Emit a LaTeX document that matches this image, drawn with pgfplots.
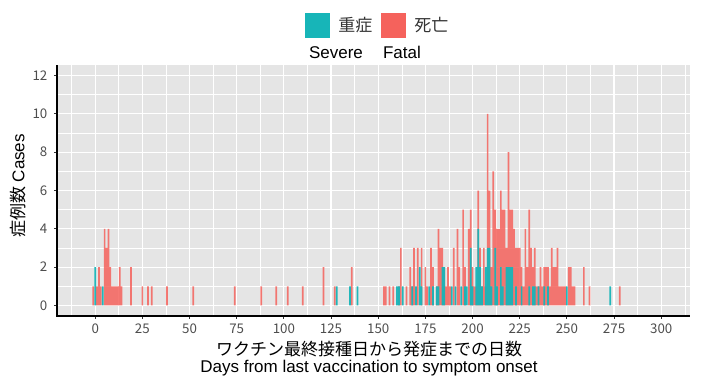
\documentclass[border=0pt]{standalone}
\usepackage{fontspec}
\usepackage{pgfplots}
\pgfplotsset{compat=1.18}
\setmainfont{Liberation Sans}
\newfontfamily\jp{Noto Sans CJK JP}
\definecolor{sev}{HTML}{17B5B8}
\definecolor{fat}{HTML}{F5625C}
\definecolor{panel}{HTML}{E5E5E5}
\definecolor{ticktext}{HTML}{4D4D4D}
\begin{document}
\begin{tikzpicture}[x=0.75pt,y=-0.75pt]
\path[use as bounding box] (0,0) rectangle (704,382);
\begin{axis}[
  at={(42.75pt,-237pt)}, anchor=south west,
  scale only axis, width=474.75pt, height=188.25pt,
  xmin=-20.25, xmax=315.25, ymin=-0.55, ymax=12.55,
  axis background/.style={fill=panel},
  axis line style={draw=none},
  xtick={0,25,...,300}, ytick={0,2,...,12},
  minor xtick={-12.5,12.5,37.5,62.5,87.5,112.5,137.5,162.5,187.5,212.5,237.5,262.5,287.5,312.5},
  minor ytick={1,3,...,11},
  minor tick length=0pt,
  xtick pos=lower, ytick pos=left,
  tick align=outside, major tick length=2.2pt,
  tick style={color=black!80, line width=0.8pt},
  grid=both,
  major grid style={white, line width=0.85pt},
  minor grid style={white, line width=0.45pt},
  /pgf/number format/assume math mode=true,
  ticklabel style={font=\jp\fontsize{10}{12}\selectfont, text=ticktext},
  yticklabel style={xshift=-1.5pt},
  clip=true,
]
\addplot[ybar, bar width=0.9, bar shift=0pt, fill=fat, draw=none, fill opacity=0.85] coordinates {
(-1,1)(1,1)(2,2)(3,1)(5,4)(6,3)(7,4)(8,2)(9,1)(10,1)(11,1)(12,1)(13,2)(14,1)(19,2)(25,1)(28,1)(30,1)(38,1)(52,1)(74,1)(88,1)(96,1)(102,1)(110,1)(121,2)(127,1)(136,2)
(153,1)(154,1)(156,1)(158,1)(161,1)(162,3)(165,1)(167,2)(168,1)(169,3)(171,3)(173,3)(175,2)(176,1)(178,3)(179,2)(181,1)(182,4)(183,3)(184,3)(185,2)(186,1)(187,2)(188,1)(190,3)(192,4)(193,2)(195,5)(196,2)(198,4)(199,5)(200,2)(201,1)(202,1)(203,6)(204,3)(205,1)(206,3)(207,1)(208,10)(209,6)(210,2)(211,7)(212,5)(213,4)(214,4)(215,6)(216,5)(217,5)(218,3)(219,8)(220,5)(221,5)(222,4)(223,3)(224,3)(225,3)(226,2)(227,1)(228,4)(229,2)(230,5)(231,3)(232,2)(233,3)(234,1)(235,1)(236,2)(237,1)(238,2)(239,2)(240,2)(241,1)(242,3)(243,2)(244,2)(245,3)(246,1)(247,1)(248,1)(249,1)(251,2)(252,2)(253,1)(254,1)(259,2)(262,1)(278,1)
};
\addplot[ybar, bar width=0.9, bar shift=0pt, fill=sev, draw=none, fill opacity=0.95] coordinates {
(0,2)(4,1)(128,1)(135,1)(139,1)(160,1)(161,1)(163,1)(168,1)(170,1)(172,2)(173,1)(177,1)(179,1)(181,1)(182,1)(184,2)(185,2)(189,1)(191,1)(194,1)(196,1)(197,1)(199,3)(200,1)(202,2)(203,4)(204,2)(205,1)(207,2)(208,3)(209,3)(210,1)(212,3)(213,1)(215,2)(216,1)(218,2)(219,2)(220,2)(221,2)(223,1)(226,1)(230,1)(232,1)(233,1)(235,1)(238,1)(240,1)(250,1)(273,1)
};
\end{axis}
% axis lines (left and bottom)
\draw[black, line width=1.1pt] (57,65) -- (57,316) -- (690,316);
% legend
\fill[sev] (305,13) rectangle (330,38);
\fill[fat] (381,13) rectangle (406,38);
\node[anchor=west, inner sep=0pt, font=\jp\fontsize{12.75}{14}\selectfont, text=black!80] at (338,25.5) {重症};
\node[anchor=west, inner sep=0pt, font=\jp\fontsize{12.75}{14}\selectfont, text=black!80] at (414,25.5) {死亡};
\node[anchor=base, inner sep=0pt, font=\fontsize{12.75}{14}\selectfont] at (336,58) {Severe};
\node[anchor=base, inner sep=0pt, font=\fontsize{12.75}{14}\selectfont] at (402,58) {Fatal};
% axis titles
\node[inner sep=0pt, font=\jp\fontsize{12.75}{14}\selectfont] at (369,349) {ワクチン最終接種日から発症までの日数};
\node[inner sep=0pt, font=\fontsize{12.75}{14}\selectfont] at (369,368) {Days from last vaccination to symptom onset};
\node[rotate=90, inner sep=0pt, font=\fontsize{12.75}{14}\selectfont] at (18,186) {{\jp 症例数} Cases};
\end{tikzpicture}
\end{document}
